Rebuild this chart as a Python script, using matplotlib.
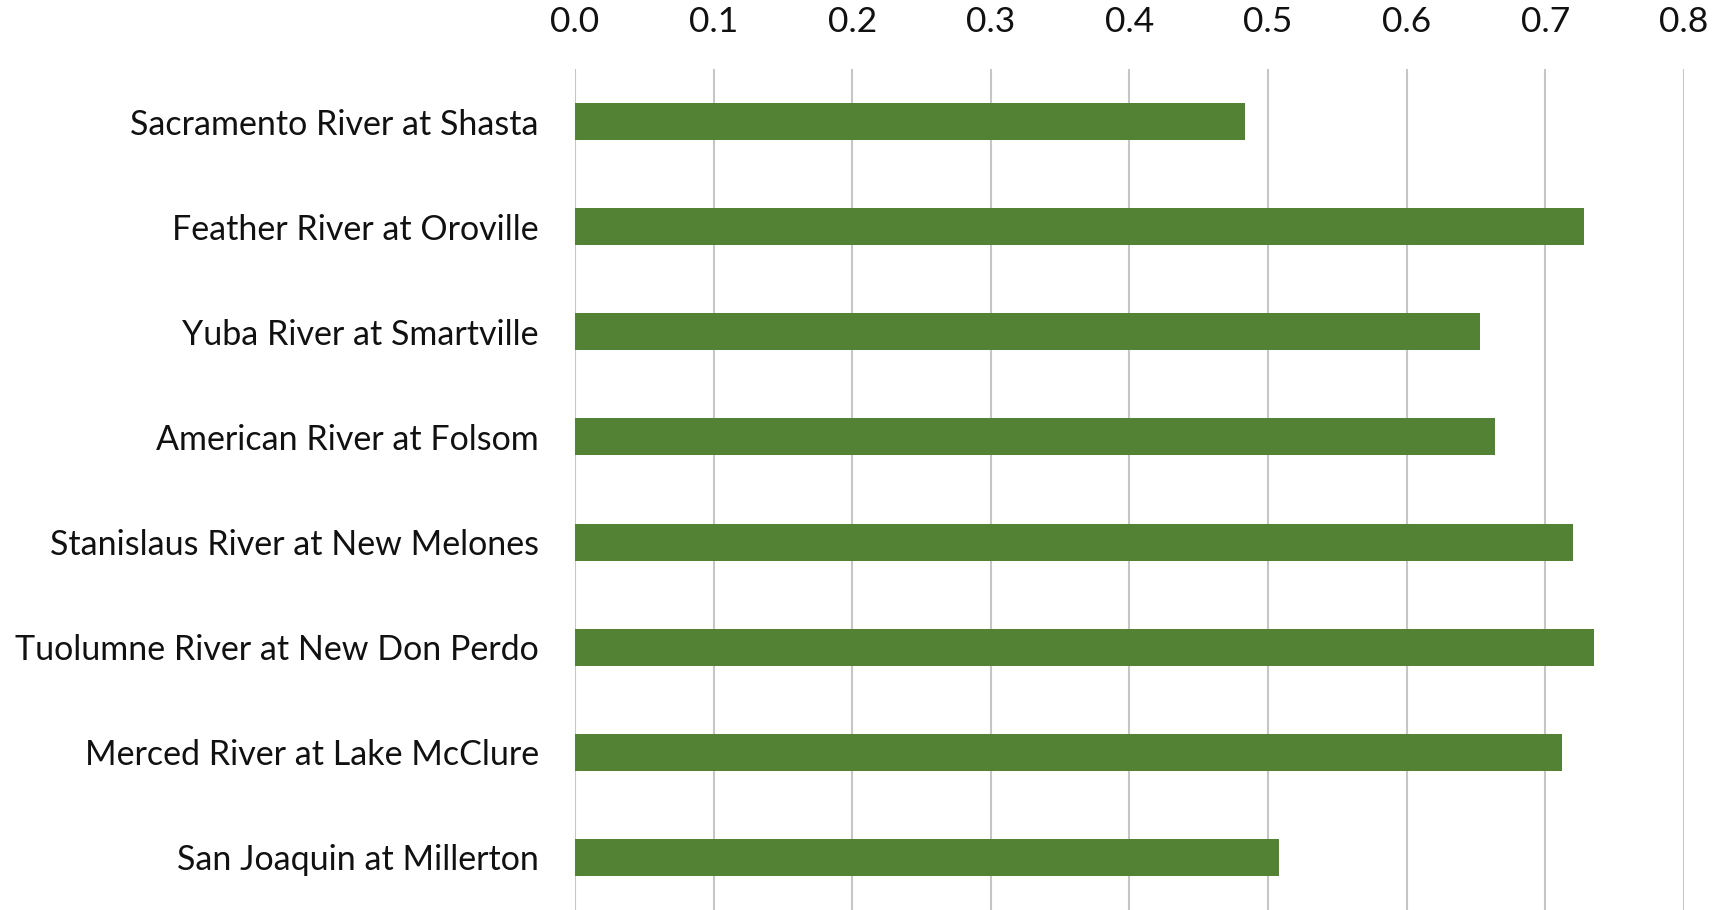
import numpy as np
from matplotlib import pyplot as plt

plt.rcParams['font.family'] = ['Lato', 'DejaVu Sans']

# 水库站点及对应数值
sites = [
    "Sacramento River at Shasta",
    "Feather River at Oroville",
    "Yuba River at Smartville",
    "American River at Folsom",
    "Stanislaus River at New Melones",
    "Tuolumne River at New Don Perdo",
    "Merced River at Lake McClure",
    "San Joaquin at Millerton",
]
values = [0.483, 0.728, 0.653, 0.664, 0.720, 0.735, 0.712, 0.508]
xticks = [0.0, 0.1, 0.2, 0.3, 0.4, 0.5, 0.6, 0.7, 0.8]

fig = plt.figure(figsize=(17.19, 9.10), dpi=100)
ax = fig.add_axes([0.3345, 0.0, 0.6451, 0.9242])

ys = np.arange(len(sites))
ax.barh(ys, values, height=0.352, color="#548235", zorder=3)

ax.set_xlim(0, 0.8)
ax.set_ylim(len(sites) - 0.5, -0.5)
ax.set_xticks(xticks)
ax.set_xticklabels(["%.1f" % t for t in xticks])
ax.set_yticks(ys)
ax.set_yticklabels(sites)

ax.xaxis.tick_top()
ax.tick_params(axis="x", length=0, pad=22, labelsize=25.5, labelcolor="#111111")
ax.tick_params(axis="y", length=0, pad=26, labelsize=24.5, labelcolor="#111111")

ax.grid(axis="x", color="#c6c6c6", linewidth=1.5, zorder=0)
for s in ax.spines.values():
    s.set_visible(False)

plt.savefig("out.png", dpi=100)
plt.close()
